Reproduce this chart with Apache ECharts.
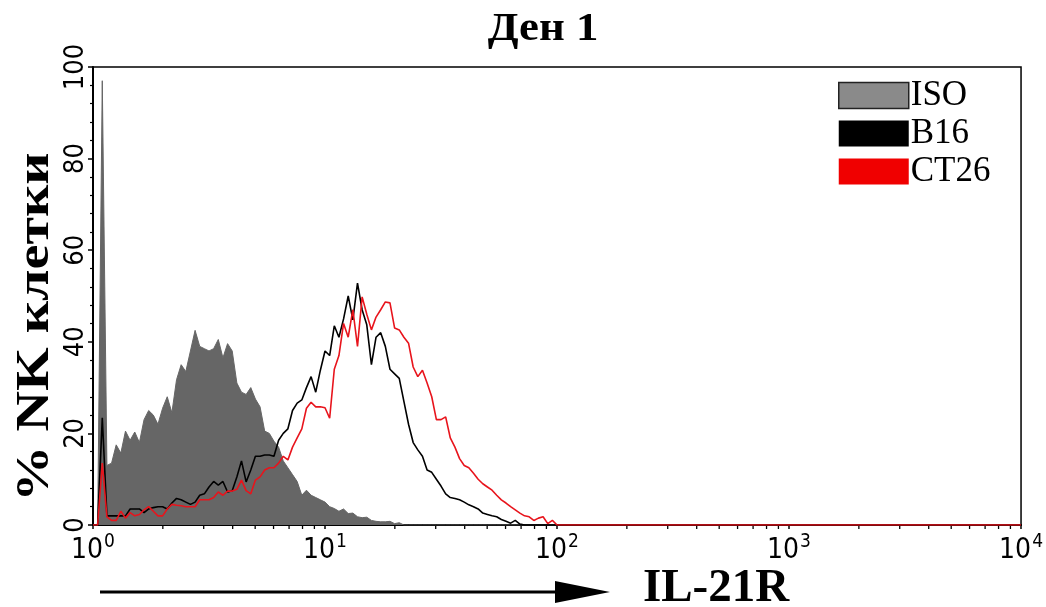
<!DOCTYPE html>
<html>
<head>
<meta charset="utf-8">
<script src="https://cdn.jsdelivr.net/npm/echarts@6/dist/echarts.min.js"></script>
<style>
html, body { margin: 0; padding: 0; background: #fff; }
#chart { width: 1046px; height: 607px; }
</style>
</head>
<body>
<div id="chart"></div>
<script>
// histogram channels: 50 bins per decade, bin k sits at 10^(k/50)
var binsPerDecade = 50;
var channels = [];
for (var c = 0; c <= 100; c++) channels.push(c);

var isoCounts = [
  0, 0, 97, 13, 13.5, 17.5, 15.7, 20.5, 18.5, 20.3,
  18, 23, 25, 24, 22, 25.5, 28, 24.5, 31.7, 35,
  33.5, 38, 42.5, 39, 38.5, 38, 38.5, 40.5, 36.5, 39.6,
  38, 31, 29, 28.5, 30, 27.5, 25.8, 20.5, 20, 18.3,
  17, 14, 12.5, 11, 9.5, 6.5, 7.6, 6.5, 6, 5.5,
  5, 4, 3.6, 3, 3.5, 2.5, 2.6, 1.8, 1.6, 1.7,
  1, 0.8, 0.7, 0.7, 0.8, 0.3, 0.5, 0, 0, 0,
  0, 0, 0, 0, 0, 0, 0, 0, 0, 0,
  0, 0, 0, 0, 0, 0, 0, 0, 0, 0,
  0, 0, 0, 0, 0, 0, 0, 0, 0, 0,
  0
];

var b16Counts = [
  0, 0, 23.4, 2, 2, 2, 2, 2, 3.5, 3.5,
  3.5, 2.7, 3.5, 3.8, 4, 4, 3.5, 4.8, 5.8, 5.5,
  5, 4.5, 5, 6.5, 6.8, 8.3, 9.5, 8.7, 9.5, 7.2,
  7.5, 10.5, 14, 9.4, 12, 15, 15, 15.3, 15.3, 15,
  18.5, 20, 21, 25, 26.6, 27.3, 30, 32.4, 29, 33.8,
  38, 37, 43.5, 41, 45, 50, 44.8, 52.8, 47, 43.7,
  35, 41, 42, 39, 34, 33, 32, 27, 22, 18,
  16.4, 15, 12, 11.5, 10, 8.5, 6.8, 6, 5.8, 5.5,
  5, 4.4, 4, 3.5, 2.6, 2.3, 2, 1.8, 1.2, 0.8,
  0.4, 1, 0.2, 0, 0, 0, 0, 0, 0, 0,
  0
];

var ct26Counts = [
  0, 0, 13.5, 1.8, 1, 1, 3, 1.5, 2.7, 2,
  2.3, 3.3, 4, 3, 2, 2, 3.5, 4.5, 4.3, 4.2,
  4, 4, 4, 5.5, 5.5, 5.5, 6, 7.2, 6.5, 7.4,
  7.4, 7.8, 9.8, 7.5, 6.8, 9.8, 10.5, 12, 12.5, 12.5,
  13.5, 15, 14.2, 17, 19, 21, 25.5, 26.8, 25.8, 25.8,
  25.6, 23.3, 34, 37, 44, 41, 47, 39, 49.8, 46,
  42.6, 45.4, 47, 48.7, 48.5, 43, 42.6, 41, 39.7, 34.5,
  32.4, 33.8, 31, 28, 23, 23, 23.6, 19, 17, 14.5,
  13, 12.5, 11.3, 10, 9, 8.3, 7.6, 6.5, 5.5, 4.8,
  4, 3.3, 2.6, 2, 1.8, 1, 1.5, 1.8, 0.3, 1,
  0
];

var xMin = 1, xMax = 10000;
var xMinorTicks = [2, 3, 4, 5, 6, 7, 8, 9, 20, 30, 40, 50, 60, 70, 80, 90,
  200, 300, 400, 500, 600, 700, 800, 900, 2000, 3000, 4000, 5000, 6000, 7000, 8000, 9000];

function toPairs(counts) {
  return channels.map(function (ch, i) {
    return [Math.pow(10, ch / binsPerDecade), counts[i]];
  });
}

var isoData = toPairs(isoCounts);
var b16Data = toPairs(b16Counts);
var ct26Data = toPairs(ct26Counts);
ct26Data.push([xMax, 0]);   // red baseline runs to the end of the axis

var tickFont = '"Liberation Sans Narrow", "DejaVu Sans Condensed", "Liberation Sans", sans-serif';
var serif = '"Liberation Serif", "DejaVu Serif", serif';

var chart = echarts.init(document.getElementById('chart'));

var option = {
  backgroundColor: '#fff',
  animation: false,
  grid: {
    left: 93, right: 23, top: 67, bottom: 82,
    show: true, borderColor: '#000', borderWidth: 1.5
  },
  legend: {
    orient: 'vertical',
    left: 838, top: 78,
    padding: 0,
    icon: 'rect',
    itemWidth: 70, itemHeight: 26, itemGap: 3,
    selectedMode: false,
    textStyle: { fontFamily: serif, fontSize: 35, color: '#000', padding: [0, 0, 0, -3] },
    data: [
      { name: 'ISO', itemStyle: { color: '#8a8a8a', borderColor: '#222', borderWidth: 1.5 } },
      { name: 'B16', itemStyle: { color: '#000', borderWidth: 0 } },
      { name: 'CT26', itemStyle: { color: '#f00000', borderWidth: 0 } }
    ]
  },
  xAxis: {
    type: 'log',
    logBase: 10,
    min: xMin, max: xMax,
    axisLine: { show: true, onZero: false, lineStyle: { color: '#000', width: 2 } },
    axisTick: { show: true, length: 4, lineStyle: { color: '#000', width: 1.5 } },
    splitLine: { show: false },
    axisLabel: {
      margin: 8,
      formatter: function (v) {
        return '{b|10}{s|' + Math.round(Math.log10(v)) + '}';
      },
      rich: {
        b: { fontFamily: tickFont, fontSize: 28, color: '#000', verticalAlign: 'bottom' },
        s: { fontFamily: tickFont, fontSize: 19, color: '#000', verticalAlign: 'bottom', padding: [0, 0, 13, 1] }
      }
    }
  },
  yAxis: {
    type: 'value',
    min: 0, max: 100, interval: 20,
    axisLine: { show: true, lineStyle: { color: '#000', width: 2 } },
    axisTick: { show: true, length: 5, lineStyle: { color: '#000', width: 1.5 } },
    minorTick: { show: true, splitNumber: 5, length: 3, lineStyle: { color: '#000', width: 1.2 } },
    splitLine: { show: false },
    axisLabel: {
      rotate: 90,
      margin: 4,
      fontFamily: tickFont,
      fontSize: 27,
      color: '#000'
    }
  },
  graphic: [
    {
      type: 'text', x: 543, y: 30, scaleX: 1.12,
      style: { text: 'Ден 1', font: 'bold 40px ' + serif, fill: '#000', textAlign: 'center', textVerticalAlign: 'middle' }
    },
    {
      type: 'text', x: 36, y: 327, rotation: Math.PI / 2, scaleX: 1.22,
      style: { text: '% NK клетки', font: 'bold 46px ' + serif, fill: '#000', textAlign: 'center', textVerticalAlign: 'middle' }
    },
    {
      type: 'text', x: 716, y: 589,
      style: { text: 'IL-21R', font: 'bold 47px ' + serif, fill: '#000', textAlign: 'center', textVerticalAlign: 'middle' }
    },
    {
      type: 'line',
      shape: { x1: 100, y1: 592, x2: 560, y2: 592 },
      style: { stroke: '#000', lineWidth: 3 }
    },
    {
      type: 'polygon',
      shape: { points: [[555, 581], [610, 592], [555, 603]] },
      style: { fill: '#000' }
    }
  ],
  series: [
    {
      name: 'ISO',
      type: 'line',
      showSymbol: false,
      data: isoData,
      itemStyle: { color: '#666' },
      lineStyle: { color: '#666', width: 1 },
      areaStyle: { color: '#666', opacity: 1 },
      z: 2
    },
    {
      name: 'B16',
      type: 'line',
      showSymbol: false,
      data: b16Data,
      itemStyle: { color: '#000' },
      lineStyle: { color: '#000', width: 1.6 },
      z: 3
    },
    {
      name: 'CT26',
      type: 'line',
      showSymbol: false,
      data: ct26Data,
      itemStyle: { color: '#e8141c' },
      lineStyle: { color: '#e8141c', width: 1.6 },
      z: 4
    },
    {
      // minor ticks of the log axis (2..9 in each decade)
      name: 'minorTicks',
      type: 'custom',
      silent: true,
      clip: false,
      data: xMinorTicks.map(function (v) { return [v, 0]; }),
      renderItem: function (params, api) {
        var p = api.coord([api.value(0), 0]);
        return {
          type: 'line',
          shape: { x1: p[0], y1: p[1] + 1, x2: p[0], y2: p[1] + 4 },
          style: { stroke: '#000', lineWidth: 1.3 }
        };
      },
      z: 1
    }
  ]
};

chart.setOption(option);

window.onresize = function () {
  chart.resize();
};
</script>
</body>
</html>
